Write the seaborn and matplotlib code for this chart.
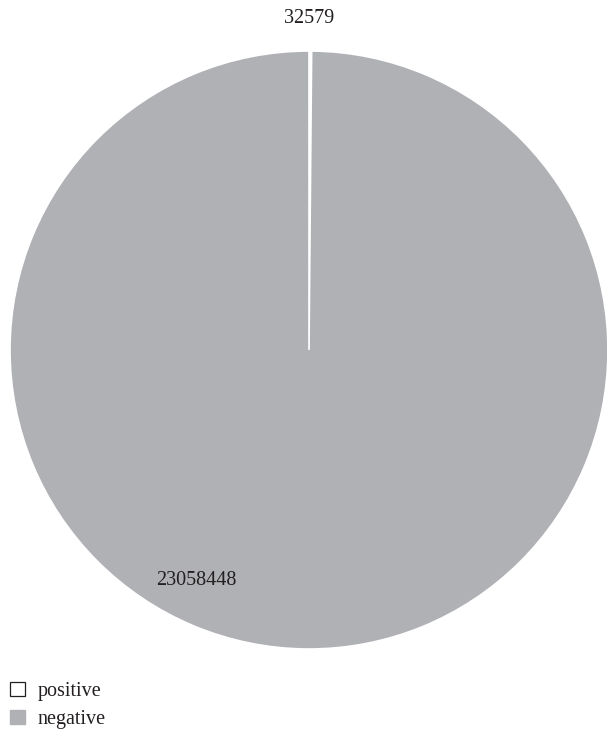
import matplotlib
matplotlib.use("Agg")
import matplotlib.pyplot as plt
import seaborn as sns
from matplotlib.patches import Patch

sns.set_theme(style="white")
plt.rcParams["font.family"] = ["Liberation Serif", "DejaVu Serif"]

categories = ["positive", "negative"]
counts = [32579, 23058448]
colors = ["#FFFFFF", "#B0B1B5"]

W, H = 607, 731
fig = plt.figure(figsize=(W / 100, H / 100), dpi=100)
ax = fig.add_axes([10 / W, (731 - 649) / H, 598 / W, 598 / H])

wedges, _ = ax.pie(
    counts,
    colors=colors,
    startangle=90,
    counterclock=False,
    radius=1.0,
    wedgeprops=dict(edgecolor="white", linewidth=1.2),
)
ax.set_xlim(-1, 1)
ax.set_ylim(-1, 1)
ax.set_aspect("equal")
ax.axis("off")

# value labels
label_pos = [(0.0, 1.11), (-0.378, -0.77)]
for (x, y), v in zip(label_pos, counts):
    ax.text(x, y, str(v), ha="center", va="center", fontsize=14.5, color="#231F20")

handles = [
    Patch(facecolor=colors[0], edgecolor="#231F20", linewidth=0.9, label=categories[0]),
    Patch(facecolor=colors[1], edgecolor=colors[1], label=categories[1]),
]
fig.legend(
    handles=handles,
    loc="upper left",
    bbox_to_anchor=(0.0, 1 - 672 / H),
    frameon=False,
    fontsize=14.5,
    borderaxespad=0.0,
    borderpad=0.5,
    handlelength=0.72,
    handleheight=0.72,
    handletextpad=0.65,
    labelspacing=0.42,
    labelcolor="#231F20",
)

fig.savefig("out.png", dpi=100)
